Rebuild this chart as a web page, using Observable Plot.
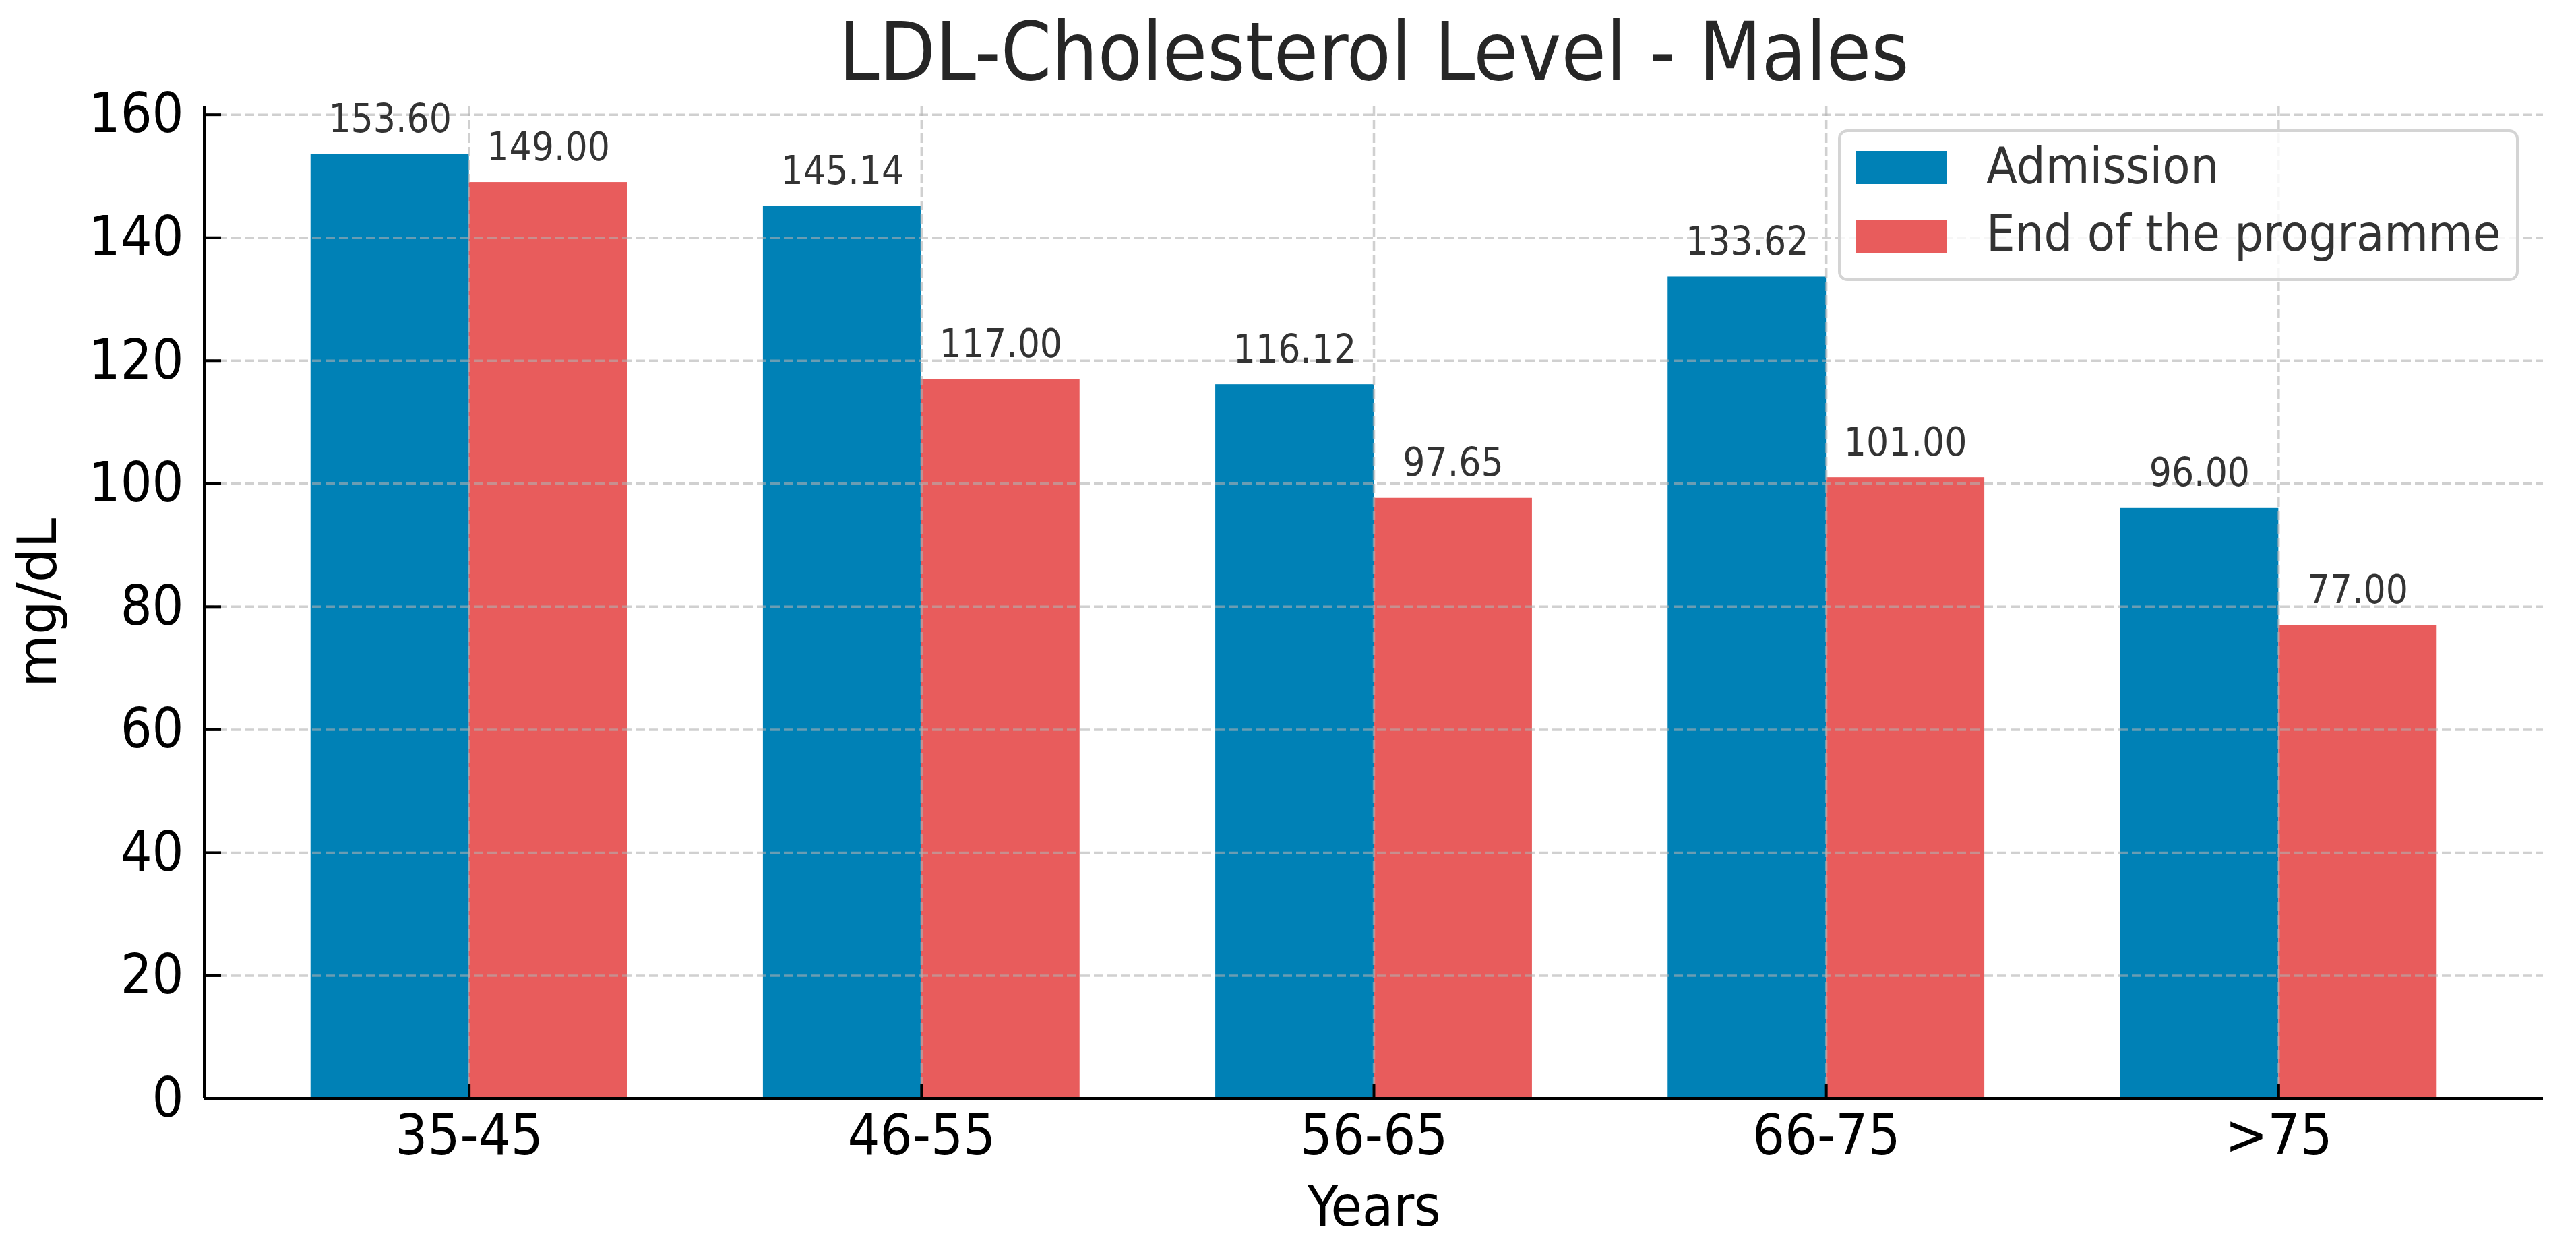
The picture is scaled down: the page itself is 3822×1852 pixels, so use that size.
<!DOCTYPE html>
<html>
<head>
<meta charset="utf-8">
<script src="https://cdn.jsdelivr.net/npm/d3@7"></script>
<script src="https://cdn.jsdelivr.net/npm/@observablehq/plot@0.6"></script>
<style>
  html, body { margin: 0; padding: 0; background: #fff; }
  #wrap { position: relative; width: 3822px; height: 1852px; overflow: hidden; }
  #wrap svg { display: block; }
  .legend { position: absolute; left: 2727px; top: 192px; width: 1010px; height: 225px; box-sizing: border-box;
            border: 4px solid #d4d4d4; border-radius: 14px; background: rgba(255,255,255,0.8);
            font-family: "DejaVu Sans Condensed", "DejaVu Sans", sans-serif; font-size: 75px; color: #333; }
  .sw { position: absolute; left: 22px; width: 136px; height: 49px; }
  .lt { position: absolute; left: 216px; line-height: 1; white-space: nowrap; }
</style>
</head>
<body>
<div id="wrap"></div>
<script>
// ---- data ----
const categories = ["35-45", "46-55", "56-65", "66-75", ">75"];
const admission = [153.60, 145.14, 116.12, 133.62, 96.00];
const endProgramme = [149.00, 117.00, 97.65, 101.00, 77.00];
const seriesNames = ["Admission", "End of the programme"];
const seriesColors = ["#0081b6", "#e85c5c"];
const yTicks = [0, 20, 40, 60, 80, 100, 120, 140, 160];
const titleText = "LDL-Cholesterol Level - Males";
const xLabel = "Years";
const yLabel = "mg/dL";

// ---- table for the library ----
const seriesValues = [admission, endProgramme];
const bars = categories.flatMap((c, i) =>
  seriesNames.map((name, s) => ({ i, s, category: c, series: name, value: seriesValues[s][i] })));

const W = 0.35;                       // bar width in category units
const xMin = -W - 0.05 * (categories.length - 1 + 2 * W);
const xMax = categories.length - 1 + W + 0.05 * (categories.length - 1 + 2 * W);
const yMax = d3.max(bars, d => d.value) * 1.05;

const condensed = "'DejaVu Sans Condensed', 'DejaVu Sans', sans-serif";
const gridStyle = { stroke: "#b0b0b0", strokeOpacity: 0.6, strokeWidth: 3.5, strokeDasharray: "14,6" };

const chart = Plot.plot({
  width: 3822,
  height: 1852,
  marginLeft: 303,
  marginRight: 49,
  marginTop: 158,
  marginBottom: 222,
  x: { domain: [xMin, xMax], axis: null },
  y: { domain: [0, yMax], axis: null },
  color: { domain: seriesNames, range: seriesColors },
  style: { fontFamily: condensed, background: "#fff", overflow: "visible", color: "#000" },
  marks: [
    Plot.rectY(bars, {
      x1: d => d.i - W + d.s * W,
      x2: d => d.i + d.s * W,
      y1: 0,
      y2: "value",
      fill: "series"
    }),
    Plot.ruleY(yTicks.filter(t => t > 0), gridStyle),
    Plot.ruleX(d3.range(categories.length), gridStyle),
    Plot.text(bars, {
      x: d => d.i - W / 2 + d.s * W,
      y: "value",
      text: d => d.value.toFixed(2),
      dy: -33,
      lineAnchor: "bottom",
      fontSize: 58,
      fill: "#333"
    }),
    Plot.axisY({ ticks: yTicks, tickSize: 0, tickPadding: 31, fontSize: 82, label: null, tickFormat: d => String(d) }),
    Plot.axisY({ ticks: yTicks, tickSize: -25, strokeWidth: 4, label: null, tickFormat: () => "" }),
    Plot.axisX({ ticks: d3.range(categories.length), tickSize: 0, tickPadding: 23, fontSize: 84, label: null, tickFormat: i => categories[i] }),
    Plot.axisX({ ticks: d3.range(categories.length), tickSize: -21, strokeWidth: 4, label: null, tickFormat: () => "" }),
    Plot.ruleX([xMin], { stroke: "#000", strokeWidth: 5 }),
    Plot.ruleY([0], { stroke: "#000", strokeWidth: 5 }),
    Plot.text([titleText], { frameAnchor: "top", dy: -41, lineAnchor: "bottom", fontSize: 120, fill: "#262626" }),
    Plot.text([xLabel], { frameAnchor: "bottom", dy: 188, lineAnchor: "bottom", fontSize: 84, fill: "#000" }),
    Plot.text([yLabel], { frameAnchor: "left", dx: -221, rotate: -90, lineAnchor: "bottom", textAnchor: "middle",
                          fontSize: 80, fill: "#000", fontFamily: "'DejaVu Sans', sans-serif" })
  ]
});

const wrap = document.getElementById("wrap");
wrap.appendChild(chart);

// legend built from the same series arrays
const legend = document.createElement("div");
legend.className = "legend";
seriesNames.forEach((name, s) => {
  const sw = document.createElement("div");
  sw.className = "sw";
  sw.style.top = (28 + s * 103) + "px";
  sw.style.background = seriesColors[s];
  const lt = document.createElement("div");
  lt.className = "lt";
  lt.style.top = (13 + s * 100) + "px";
  lt.textContent = name;
  legend.appendChild(sw);
  legend.appendChild(lt);
});
wrap.appendChild(legend);
</script>
</body>
</html>
